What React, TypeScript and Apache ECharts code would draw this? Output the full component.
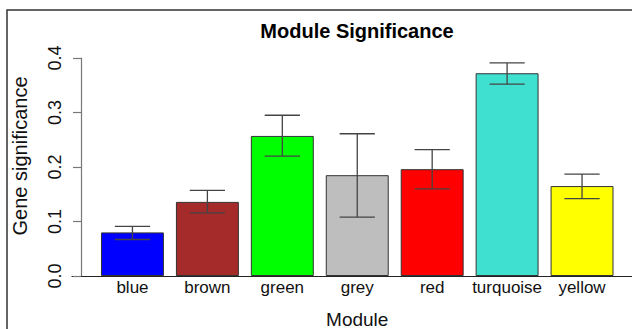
import React, { useEffect, useRef } from "react";
import * as echarts from "echarts";

const categories = ["blue", "brown", "green", "grey", "red", "turquoise", "yellow"];
const values = [0.08, 0.136, 0.257, 0.185, 0.196, 0.372, 0.165];
const errLow = [0.067, 0.116, 0.22, 0.108, 0.16, 0.352, 0.142];
const errHigh = [0.091, 0.157, 0.295, 0.261, 0.232, 0.391, 0.187];
const barColors = ["#0000FF", "#A52A2A", "#00FF00", "#BEBEBE", "#FF0000", "#40E0D0", "#FFFF00"];
const yTicks = [0, 0.1, 0.2, 0.3, 0.4];

const FONT = "'Liberation Sans', Arial, Helvetica, sans-serif";

export default function App() {
  const ref = useRef<HTMLDivElement>(null);
  useEffect(() => {
    if (!ref.current) return;
    const chart = echarts.init(ref.current, undefined, { renderer: "svg" });
    const option: any = {
      animation: false,
      backgroundColor: "#ffffff",
      title: {
        text: "Module Significance",
        left: 357,
        textAlign: "center",
        top: 21,
        padding: 0,
        textStyle: { fontFamily: FONT, fontSize: 20, fontWeight: "bold", color: "#000" },
      },
      grid: [
        { left: 95, right: 12.5, top: 58, bottom: 53, outerBoundsMode: "none", containLabel: false },
        { left: 72, right: 0, top: 58, bottom: 53, outerBoundsMode: "none", containLabel: false },
      ],
      xAxis: [
        {
          type: "category",
          gridIndex: 0,
          data: categories,
          axisLine: { show: false },
          axisTick: { show: false },
          axisLabel: { fontFamily: FONT, fontSize: 17, color: "#111", margin: 3, interval: 0 },
          name: "Module",
          nameLocation: "middle",
          nameGap: 34,
          nameTextStyle: { fontFamily: FONT, fontSize: 19, color: "#111" },
        },
        {
          type: "value",
          gridIndex: 1,
          min: 0,
          max: 1,
          axisLine: { show: true, lineStyle: { color: "#222", width: 1.2 } },
          axisTick: { show: false },
          axisLabel: { show: false },
          splitLine: { show: false },
        },
      ],
      yAxis: [
        {
          type: "value",
          gridIndex: 0,
          min: 0,
          max: 0.4,
          interval: 0.1,
          offset: 14,
          axisLine: { show: true, lineStyle: { color: "#777", width: 1.2 } },
          axisTick: { show: true, length: 8, lineStyle: { color: "#777", width: 1.2 } },
          splitLine: { show: false },
          axisLabel: {
            rotate: 90,
            fontFamily: FONT,
            fontSize: 18,
            color: "#111",
            margin: 17,
            formatter: (v: number) => {
              const t = yTicks.find((x) => Math.abs(x - v) < 1e-9);
              return (t !== undefined ? t : v).toFixed(1);
            },
          },
        },
        {
          type: "value",
          gridIndex: 1,
          min: 0,
          max: 1,
          show: false,
        },
      ],
      graphic: [
        {
          type: "rect",
          shape: { x: 7, y: 10, width: 700, height: 400 },
          style: { fill: "none", stroke: "#333", lineWidth: 1.5 },
          silent: true,
        },
        {
          type: "text",
          x: 20,
          y: 156,
          rotation: Math.PI / 2,
          style: {
            text: "Gene significance",
            fontFamily: FONT,
            fontSize: 20,
            fill: "#111",
            align: "center",
            verticalAlign: "middle",
          },
        },
      ],
      series: [
        {
          type: "bar",
          xAxisIndex: 0,
          yAxisIndex: 0,
          barCategoryGap: "16%",
          data: values.map((v, i) => ({
            value: v,
            itemStyle: { color: barColors[i], borderColor: "#333", borderWidth: 1 },
          })),
        },
        {
          type: "custom",
          xAxisIndex: 0,
          yAxisIndex: 0,
          data: categories.map((_, i) => [i, errLow[i], errHigh[i]]),
          renderItem: (params: any, api: any) => {
            const idx = api.value(0);
            const lo = api.coord([idx, api.value(1)]);
            const hi = api.coord([idx, api.value(2)]);
            const half = api.size([1, 0])[0] * 0.235;
            const style = { stroke: "#444", lineWidth: 1.3 };
            return {
              type: "group",
              children: [
                { type: "line", shape: { x1: hi[0], y1: hi[1], x2: lo[0], y2: lo[1] }, style },
                { type: "line", shape: { x1: hi[0] - half, y1: hi[1], x2: hi[0] + half, y2: hi[1] }, style },
                { type: "line", shape: { x1: lo[0] - half, y1: lo[1], x2: lo[0] + half, y2: lo[1] }, style },
              ],
            };
          },
          z: 5,
        },
      ],
    };
    chart.setOption(option);
    return () => chart.dispose();
  }, []);
  return (
    <div
      ref={ref}
      style={{ position: "fixed", left: 0, top: 0, width: 632, height: 329 }}
    />
  );
}
